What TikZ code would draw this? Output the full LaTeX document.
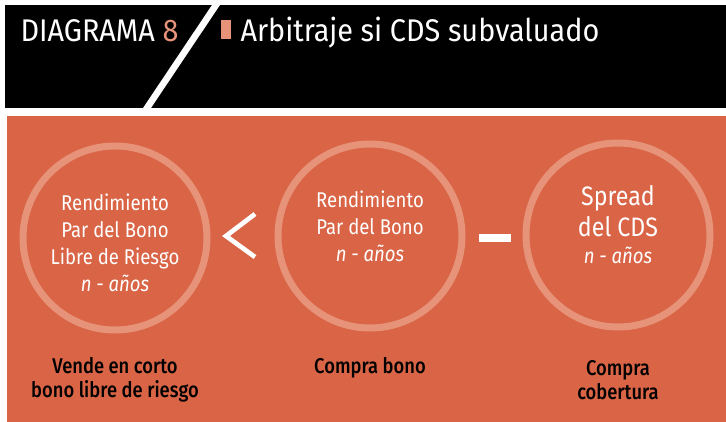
\documentclass[tikz,border=0pt]{standalone}
\usepackage{fontspec}
\setmainfont{Fira Sans}[FakeStretch=0.87]
\newfontfamily\headfont{Fira Sans}[FakeStretch=0.92]
\newfontfamily\labelfont{Fira Sans Medium}[FakeStretch=0.86]
\definecolor{bgorange}{HTML}{D96446}
\definecolor{ringpink}{HTML}{E6937A}

\tikzset{every picture/.style={line width=0.75pt}}
\tikzset{
  ring/.style={circle,draw=ringpink,line width=5.25pt,minimum size=138pt,inner sep=0pt},
  circtext/.style={text=white,align=center,inner sep=0pt,font=\fontsize{16}{20.25}\selectfont},
  bigtext/.style={text=white,align=center,inner sep=0pt,font=\fontsize{20}{23}\selectfont},
  actlabel/.style={text=black,align=center,inner sep=0pt,font=\labelfont\fontsize{16}{18}\selectfont}
}

\begin{document}
\begin{tikzpicture}[x=0.75pt,y=0.75pt,yscale=-1,xscale=1]
\useasboundingbox (0,0) rectangle (726,422);
% Header
\fill[black] (5,5) rectangle (726,108);
\fill[white] (212,5) -- (220,5) -- (151,108) -- (143,108) -- cycle;
\fill[ringpink] (221,20) rectangle (231,39);
\draw (20,41) node [anchor=base west][inner sep=0pt] (diag) {\headfont\fontsize{23.5}{27}\selectfont\color{white}DIAGRAMA \color{ringpink}8};
\draw (240,41) node [anchor=base west][inner sep=0pt] (title) {\headfont\fontsize{23.5}{27}\selectfont\color{white}Arbitraje si CDS subvaluado};
% Panel
\fill[bgorange] (7,116) rectangle (726,422);
% Circles
\node [ring] (rlibre) at (115,238) {};
\node [ring] (rbono) at (370,236) {};
\node [ring] (rcds) at (618,235) {};
% Text Node
\node [circtext] (tlibre) at (115,243) {Rendimiento\\Par del Bono\\Libre de Riesgo\\\textit{n - años}};
\node [circtext] (tbono) at (370,226) {Rendimiento\\Par del Bono\\\textit{n - años}};
\node [bigtext] (tcds) at (618,211) {Spread\\del CDS};
\node [circtext] (tn) at (618,255) {\textit{n - años}};
% Signs
\draw [white,line width=3.5pt] (255,214) -- (226,236) -- (255,257);
\fill [white] (479,234) rectangle (511,242);
% Labels
\node [actlabel] (llibre) at (115,380) {Vende en corto\\bono libre de riesgo};
\node [actlabel] (lbono) at (370,368) {Compra bono};
\node [actlabel] (lcds) at (618,380) {Compra\\cobertura};
\end{tikzpicture}
\end{document}
